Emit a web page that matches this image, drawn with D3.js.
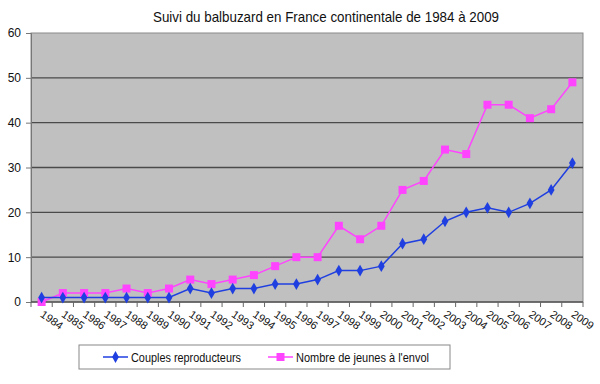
<!DOCTYPE html>
<html>
<head>
<meta charset="utf-8">
<script src="https://cdn.jsdelivr.net/npm/d3@7"></script>
<style>
  body { margin: 0; background: #fff; }
  text { font-family: "Liberation Sans", Arial, sans-serif; }
</style>
</head>
<body>
<div id="chart"></div>
<script>
// ---------------- data ----------------
var years = ["1984","1985","1986","1987","1988","1989","1990","1991","1992","1993","1994","1995","1996",
  "1997","1998","1999","2000","2001","2002","2003","2004","2005","2006","2007","2008","2009"];
var couples = [1,1,1,1,1,1,1,3,2,3,3,4,4,5,7,7,8,13,14,18,20,21,20,22,25,31];
var jeunes  = [0,2,2,2,3,2,3,5,4,5,6,8,10,10,17,14,17,25,27,34,33,44,44,41,43,49];
var yTicks = [0,10,20,30,40,50,60];
var seriesNames = ["Couples reproducteurs", "Nombre de jeunes à l'envol"];

// ---------------- svg init ----------------
var width = 600, height = 384;
var margin = {top: 33, right: 17, bottom: 82, left: 31};
var w = width - margin.left - margin.right,
  h = height - margin.top - margin.bottom;

var svg = d3.select("#chart").append("svg")
  .attr("width", width)
  .attr("height", height);

var g = svg.append("g")
  .attr("transform", "translate(" + margin.left + "," + margin.top + ")");

var x = d3.scaleBand().domain(years).range([0, w]);
var y = d3.scaleLinear().domain([0, 60]).range([h, 0]);

// title (narrow look of the original)
svg.append("text")
  .attr("x", 153).attr("y", 22)
  .attr("textLength", 346)
  .attr("lengthAdjust", "spacingAndGlyphs")
  .style("font-size", "14.5px")
  .attr("fill", "#111")
  .text("Suivi du balbuzard en France continentale de 1984 à 2009");

// plot area
g.append("rect")
  .attr("width", w).attr("height", h)
  .attr("fill", "#c0c0c0")
  .attr("stroke", "#8a8a8a");

// grid
g.selectAll(".grid").data(yTicks.slice(1, -1)).enter()
  .append("line")
  .attr("x1", 0).attr("x2", w)
  .attr("y1", function (d) { return y(d); })
  .attr("y2", function (d) { return y(d); })
  .attr("stroke", "#4a4a4a")
  .attr("stroke-width", 1.3);

// y axis
var yAxis = g.append("g")
  .call(d3.axisLeft(y).tickValues(yTicks).tickSize(5).tickPadding(5));
yAxis.select(".domain").attr("stroke", "#777");
yAxis.selectAll(".tick line").attr("stroke", "#777");
yAxis.selectAll("text").style("font-size", "12px").attr("fill", "#111");

// x axis : ticks on category boundaries
var xg = g.append("g").attr("transform", "translate(0," + h + ")");
xg.append("line").attr("x1", 0).attr("x2", w).attr("stroke", "#555").attr("stroke-width", 1.3);
xg.selectAll(".xt").data(years.concat(["end"])).enter()
  .append("line")
  .attr("x1", function (d, i) { return i * x.step(); })
  .attr("x2", function (d, i) { return i * x.step(); })
  .attr("y1", 0).attr("y2", 5)
  .attr("stroke", "#666");
xg.selectAll(".xl").data(years).enter()
  .append("text")
  .attr("transform", function (d) {
    return "translate(" + (x(d) + x.bandwidth() / 2 - 2) + ",14) rotate(35)";
  })
  .style("font-size", "11px")
  .attr("fill", "#111")
  .text(function (d) { return d; });

// lines
var line = function (vals) {
  return d3.line()
    .x(function (d, i) { return x(years[i]) + x.bandwidth() / 2; })
    .y(function (d) { return y(d); })(vals);
};

g.append("path").attr("d", line(jeunes))
  .attr("fill", "none").attr("stroke", "#ff44ff").attr("stroke-width", 1.5);
g.append("path").attr("d", line(couples))
  .attr("fill", "none").attr("stroke", "#1f3fe0").attr("stroke-width", 1.5);

g.selectAll(".sq").data(jeunes).enter()
  .append("rect")
  .attr("x", function (d, i) { return x(years[i]) + x.bandwidth() / 2 - 4; })
  .attr("y", function (d) { return y(d) - 4; })
  .attr("width", 8).attr("height", 8)
  .attr("fill", "#ff44ff");

var diamond = d3.symbol().type(d3.symbolDiamond).size(40);
g.selectAll(".dm").data(couples).enter()
  .append("path")
  .attr("d", diamond)
  .attr("transform", function (d, i) {
    return "translate(" + (x(years[i]) + x.bandwidth() / 2) + "," + y(d) + ")";
  })
  .attr("fill", "#1f3fe0");

// legend
var lg = svg.append("g").attr("transform", "translate(79,345)");
lg.append("rect").attr("width", 371).attr("height", 24)
  .attr("fill", "#fff").attr("stroke", "#888");

var legendX = [24, 189], legendLen = [110, 133];
var items = lg.selectAll(".item").data(seriesNames).enter()
  .append("g")
  .attr("transform", function (d, i) { return "translate(" + legendX[i] + ",12)"; });
items.append("line").attr("x1", 0).attr("x2", 25)
  .attr("stroke", function (d, i) { return i === 0 ? "#1f3fe0" : "#ff44ff"; })
  .attr("stroke-width", 1.5);
items.each(function (d, i) {
  var s = d3.select(this);
  if (i === 0) {
    s.append("path").attr("d", diamond).attr("transform", "translate(12.5,0)").attr("fill", "#1f3fe0");
  } else {
    s.append("rect").attr("x", 8.5).attr("y", -4).attr("width", 8).attr("height", 8).attr("fill", "#ff44ff");
  }
});
items.append("text")
  .attr("x", 28).attr("y", 4.5)
  .attr("textLength", function (d, i) { return legendLen[i]; })
  .attr("lengthAdjust", "spacingAndGlyphs")
  .style("font-size", "12.5px")
  .attr("fill", "#111")
  .text(function (d) { return d; });
</script>
</body>
</html>
